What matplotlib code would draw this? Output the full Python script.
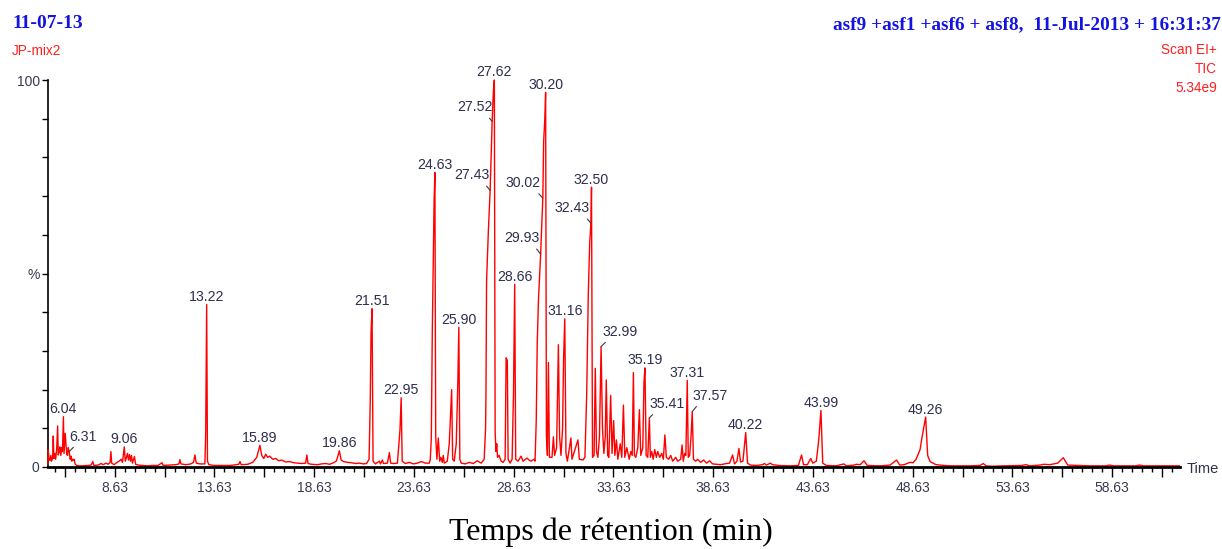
import numpy as np
import matplotlib
matplotlib.use("Agg")
import matplotlib.pyplot as plt
from matplotlib.ticker import FixedLocator, FixedFormatter

# ---------------- data ----------------
# chromatogram trace: (retention time in min, relative abundance in %)
trace_points = [
    (5.28, 0.8), (5.30, 4.4), (5.34, 2.0), (5.39, 1.7), (5.43, 3.0), (5.47, 1.5), (5.52, 2.5),
    (5.55, 8.0), (5.58, 2.2), (5.63, 3.5), (5.67, 2.0), (5.72, 4.5), (5.77, 10.6), (5.80, 3.1),
    (5.85, 4.0), (5.88, 5.2), (5.93, 3.0), (5.97, 5.0), (6.01, 4.0), (6.06, 13.0), (6.09, 3.5),
    (6.12, 6.0), (6.15, 8.7), (6.19, 5.6), (6.23, 3.2), (6.27, 3.0), (6.30, 5.0), (6.35, 4.0),
    (6.40, 2.0), (6.44, 2.8), (6.48, 1.5), (6.52, 2.0), (6.56, 1.8), (6.60, 2.0), (6.64, 0.8),
    (6.72, 0.4), (6.85, 0.3), (7.00, 0.3), (7.30, 0.4), (7.45, 0.5), (7.53, 1.4), (7.59, 0.4),
    (7.80, 0.5), (7.95, 0.9), (8.05, 0.6), (8.20, 1.0), (8.30, 0.7), (8.40, 1.2), (8.44, 4.0),
    (8.48, 1.0), (8.60, 0.6), (8.75, 1.2), (8.85, 1.5), (8.95, 2.0), (9.02, 1.2), (9.11, 5.2),
    (9.16, 1.5), (9.22, 2.5), (9.27, 3.5), (9.32, 1.8), (9.37, 3.2), (9.42, 1.5), (9.47, 3.0),
    (9.52, 1.0), (9.62, 2.7), (9.68, 0.7), (9.80, 0.5), (10.00, 0.4), (10.30, 0.3), (10.50, 0.4),
    (10.80, 0.4), (11.00, 1.1), (11.06, 0.4), (11.40, 0.5), (11.70, 0.6), (11.85, 0.8), (11.90, 1.9),
    (11.95, 0.8), (12.20, 0.6), (12.45, 0.8), (12.58, 1.2), (12.65, 3.1), (12.72, 1.0), (12.90, 0.8),
    (13.15, 0.8), (13.19, 8.2), (13.24, 42.0), (13.28, 1.5), (13.35, 0.6), (13.60, 0.4), (14.00, 0.4),
    (14.40, 0.4), (14.60, 0.5), (14.85, 0.7), (14.91, 1.4), (14.97, 0.6), (15.30, 0.7), (15.55, 1.2),
    (15.75, 2.5), (15.91, 5.6), (16.00, 3.0), (16.10, 2.2), (16.20, 3.3), (16.30, 2.5), (16.40, 2.8),
    (16.55, 2.0), (16.70, 2.2), (16.85, 1.6), (17.00, 1.8), (17.20, 1.3), (17.40, 1.4), (17.60, 1.1),
    (17.80, 1.0), (18.00, 0.9), (18.20, 1.0), (18.26, 3.1), (18.32, 0.9), (18.50, 0.7), (18.80, 0.6),
    (19.00, 0.8), (19.20, 0.9), (19.40, 0.7), (19.60, 1.1), (19.75, 1.6), (19.89, 4.2), (19.98, 1.8),
    (20.10, 1.4), (20.30, 1.2), (20.50, 1.1), (20.70, 0.9), (20.90, 1.0), (21.10, 0.8), (21.25, 0.9),
    (21.38, 2.0), (21.44, 17.0), (21.48, 35.0), (21.53, 40.9), (21.58, 1.5), (21.70, 0.8), (21.90, 1.5),
    (21.95, 0.8), (22.05, 1.8), (22.10, 0.9), (22.30, 1.0), (22.40, 3.7), (22.46, 1.0), (22.60, 0.9),
    (22.80, 1.0), (22.93, 9.6), (22.99, 17.9), (23.04, 1.5), (23.20, 0.9), (23.40, 1.2), (23.60, 0.8),
    (23.80, 1.0), (24.00, 1.4), (24.20, 1.0), (24.40, 1.0), (24.45, 2.0), (24.50, 7.5), (24.55, 35.0),
    (24.60, 53.6), (24.64, 69.0), (24.68, 76.1), (24.72, 8.0), (24.78, 2.0), (24.85, 7.5), (24.92, 1.5),
    (24.98, 2.5), (25.05, 1.2), (25.10, 3.0), (25.15, 1.0), (25.30, 1.5), (25.40, 6.0), (25.45, 12.0),
    (25.52, 20.0), (25.57, 2.0), (25.65, 1.5), (25.75, 6.0), (25.83, 22.0), (25.88, 36.1), (25.93, 2.0),
    (26.00, 1.0), (26.20, 0.8), (26.40, 1.2), (26.60, 0.9), (26.80, 1.6), (27.00, 1.0), (27.15, 2.0),
    (27.22, 10.0), (27.24, 19.0), (27.27, 48.0), (27.36, 61.0), (27.45, 71.5), (27.55, 89.3),
    (27.61, 97.0), (27.66, 100.0), (27.70, 9.0), (27.74, 4.0), (27.78, 6.0), (27.82, 2.5), (27.90, 3.0),
    (28.00, 1.5), (28.10, 1.2), (28.20, 2.0), (28.25, 28.2), (28.31, 27.5), (28.35, 2.0), (28.45, 1.0),
    (28.55, 2.0), (28.62, 19.0), (28.68, 47.2), (28.73, 2.0), (28.85, 1.5), (29.00, 2.8), (29.10, 1.5),
    (29.30, 2.3), (29.40, 1.8), (29.50, 1.5), (29.65, 2.0), (29.70, 1.5), (29.76, 12.0), (29.81, 32.0),
    (29.87, 43.0), (29.98, 55.0), (30.09, 69.5), (30.13, 84.0), (30.19, 90.0), (30.23, 96.8),
    (30.27, 8.0), (30.32, 3.0), (30.37, 27.0), (30.42, 2.5), (30.55, 2.5), (30.62, 7.8), (30.68, 3.0),
    (30.78, 5.0), (30.87, 31.6), (30.93, 7.8), (31.00, 3.0), (31.08, 10.0), (31.13, 28.0), (31.19, 38.3),
    (31.25, 3.5), (31.32, 1.5), (31.50, 7.5), (31.55, 2.0), (31.70, 4.5), (31.85, 7.0), (31.92, 2.0),
    (32.10, 1.8), (32.20, 2.5), (32.29, 19.0), (32.37, 45.0), (32.44, 58.0), (32.50, 63.0),
    (32.53, 72.3), (32.58, 2.5), (32.66, 3.0), (32.72, 25.5), (32.78, 4.0), (32.85, 2.5), (32.93, 8.0),
    (33.01, 31.1), (33.08, 10.0), (33.15, 3.5), (33.22, 8.0), (33.27, 22.5), (33.34, 3.0), (33.40, 2.5),
    (33.49, 18.5), (33.56, 3.5), (33.64, 12.0), (33.70, 3.0), (33.78, 7.0), (33.85, 2.0), (33.97, 6.0),
    (34.05, 2.5), (34.13, 16.0), (34.20, 2.5), (34.30, 5.0), (34.42, 2.0), (34.50, 4.0), (34.57, 3.0),
    (34.63, 24.4), (34.68, 3.0), (34.75, 2.5), (34.85, 5.0), (34.93, 14.8), (35.00, 3.0), (35.10, 5.0),
    (35.16, 22.0), (35.21, 25.6), (35.27, 3.0), (35.35, 2.5), (35.43, 12.7), (35.48, 2.5), (35.55, 4.0),
    (35.62, 2.0), (35.70, 4.5), (35.78, 2.5), (35.85, 4.0), (35.95, 2.5), (36.05, 3.5), (36.13, 2.0),
    (36.21, 8.3), (36.28, 2.5), (36.40, 2.0), (36.50, 3.0), (36.60, 1.5), (36.75, 2.5), (36.85, 1.5),
    (37.00, 2.0), (37.07, 5.7), (37.13, 1.5), (37.20, 3.5), (37.26, 3.0), (37.33, 22.4), (37.38, 2.5),
    (37.45, 3.0), (37.52, 8.0), (37.58, 14.3), (37.64, 2.0), (37.75, 1.5), (37.85, 2.0), (38.00, 1.2),
    (38.15, 1.8), (38.30, 1.0), (38.45, 1.6), (38.60, 0.8), (38.80, 0.7), (39.00, 0.6), (39.30, 0.9),
    (39.45, 1.0), (39.60, 3.1), (39.70, 0.8), (39.82, 1.5), (39.92, 4.8), (40.00, 1.3), (40.12, 1.5),
    (40.26, 8.9), (40.35, 1.0), (40.50, 0.5), (40.80, 0.4), (41.10, 0.6), (41.20, 0.9), (41.30, 0.5),
    (41.50, 1.0), (41.60, 0.6), (41.90, 0.4), (42.50, 0.3), (42.90, 0.4), (43.06, 3.1), (43.16, 0.6),
    (43.35, 0.6), (43.52, 2.2), (43.62, 1.0), (43.80, 1.5), (43.92, 7.0), (44.03, 14.6), (44.12, 1.0),
    (44.30, 0.4), (44.80, 0.3), (45.18, 0.8), (45.30, 0.3), (45.70, 0.5), (45.80, 0.7), (46.00, 0.6),
    (46.19, 1.6), (46.35, 0.4), (47.00, 0.3), (47.50, 0.5), (47.82, 1.8), (47.98, 0.5), (48.20, 0.6),
    (48.49, 1.2), (48.65, 1.1), (48.80, 2.0), (49.00, 4.5), (49.10, 7.8), (49.28, 12.9), (49.38, 3.0),
    (49.50, 1.4), (49.80, 0.6), (50.20, 0.4), (50.60, 0.3), (51.00, 0.3), (51.50, 0.3), (52.00, 0.4),
    (52.17, 0.9), (52.30, 0.3), (52.60, 0.2), (53.20, 0.3), (54.10, 0.4), (54.30, 0.6), (54.50, 0.3),
    (55.00, 0.5), (55.20, 0.7), (55.50, 0.6), (55.90, 1.0), (56.18, 2.4), (56.40, 0.5), (57.00, 0.4),
    (57.50, 0.3), (58.30, 0.3), (58.50, 0.5), (58.70, 0.3), (59.80, 0.3), (60.00, 0.5), (60.20, 0.3),
    (61.00, 0.3), (62.00, 0.3),
]

# peak labels written straight above the apex: (text, apex time)
apex_labels = [
    ("6.04", 6.06), ("9.06", 9.11), ("13.22", 13.24), ("15.89", 15.91), ("19.86", 19.89),
    ("21.51", 21.53), ("22.95", 22.99), ("24.63", 24.68), ("25.90", 25.88), ("27.62", 27.66),
    ("28.66", 28.68), ("30.20", 30.23), ("31.16", 31.19), ("32.50", 32.53), ("35.19", 35.21),
    ("37.31", 37.33), ("40.22", 40.26), ("43.99", 44.03), ("49.26", 49.28),
]
# peak labels attached by a short leader line: (text, point time)
leader_labels = [
    ("6.31", 6.35), ("27.43", 27.45), ("27.52", 27.55), ("29.93", 29.98), ("30.02", 30.09),
    ("32.43", 32.50), ("32.99", 33.01), ("35.41", 35.43), ("37.57", 37.58),
]

x_tick_labels = ["8.63", "13.63", "18.63", "23.63", "28.63", "33.63", "38.63",
                 "43.63", "48.63", "53.63", "58.63"]
y_tick_values = [0, 50, 100]
y_tick_labels = ["0", "%", "100"]

# ---------------- layout / style ----------------
W, H = 1222, 549
PX_PER_MIN = 19.95
REF_PX = 114.7          # pixel column of 8.63 min
def t_at(px):
    return 8.63 + (px - REF_PX) / PX_PER_MIN

AX_L, AX_R, AX_B, AX_T = 48, 1180, 467, 80

RED = "#ff0000"
BLUE = "#1414e0"
LABEL_C = "#2e2e4e"
TICK_C = "#3a3a52"
SANS = ["Liberation Sans", "DejaVu Sans"]
SERIF = ["Liberation Serif", "DejaVu Serif"]

leader_style = {  # text offset (px) from the point, alignment, leader start on text box
    "6.31": (0, 11, "left", 0.34),
    "27.43": (-1, 11, "right", 0.8),
    "27.52": (0, 10, "right", 0.8),
    "29.93": (-1, 12, "right", 0.8),
    "30.02": (-2, 11, "right", 0.8),
    "32.43": (-1, 11, "right", 0.8),
    "32.99": (1, 11, "left", 0.24),
    "35.41": (0, 10, "left", 0.24),
    "37.57": (0, 12, "left", 0.24),
}

fig = plt.figure(figsize=(W / 100, H / 100), dpi=100)
ax = fig.add_axes([AX_L / W, 1 - AX_B / H, (AX_R - AX_L) / W, (AX_B - AX_T) / H])

times = np.array([p[0] for p in trace_points])
vals = np.array([p[1] for p in trace_points])

ax.plot(times, vals, color=RED, lw=1.0, clip_on=False, zorder=3)
ax.set_xlim(t_at(AX_L), t_at(AX_R))
ax.set_ylim(0, 100)

for s in ("top", "right"):
    ax.spines[s].set_visible(False)
ax.spines["bottom"].set_linewidth(2.0)
ax.spines["left"].set_linewidth(1.2)
ax.spines["bottom"].set_zorder(4)

# x ticks: majors every 2.5 min, labels every 5 min, minors every 0.5 min
x_lab_vals = [float(s) for s in x_tick_labels]
majors = [6.13 + 2.5 * k for k in range(23)]
maj_labels = []
for m in majors:
    hit = [s for s, v in zip(x_tick_labels, x_lab_vals) if abs(v - m) < 1e-6]
    maj_labels.append(hit[0] if hit else "")
ax.xaxis.set_major_locator(FixedLocator(majors))
ax.xaxis.set_major_formatter(FixedFormatter(maj_labels))
ax.xaxis.set_minor_locator(FixedLocator([5.63 + 0.5 * k for k in range(113)]))
ax.tick_params(axis="x", which="major", direction="out", length=7, width=1.0,
               pad=3, labelsize=10, labelcolor=TICK_C)
ax.tick_params(axis="x", which="minor", direction="out", length=3.8, width=1.0)

ax.yaxis.set_major_locator(FixedLocator(list(range(0, 101, 10))))
ax.yaxis.set_major_formatter(FixedFormatter(
    [y_tick_labels[y_tick_values.index(v)] if v in y_tick_values else "" for v in range(0, 101, 10)]))
ax.tick_params(axis="y", which="major", direction="out", length=4.5, width=1.0,
               pad=1.5, labelsize=10, labelcolor=TICK_C)
for lab in ax.get_xticklabels() + ax.get_yticklabels():
    lab.set_family(SANS)

# peak labels
for text, t in apex_labels:
    y = float(np.interp(t, times, vals))
    ax.annotate(text, xy=(t, y), xytext=(0, 3.5), textcoords="offset pixels",
                ha="center", va="baseline", fontsize=10.2, color=LABEL_C,
                family=SANS, annotation_clip=False, zorder=5)

for text, t in leader_labels:
    dx, dy, ha, rx = leader_style[text]
    y = float(np.interp(t, times, vals))
    ax.annotate(text, xy=(t, y), xytext=(dx, dy), textcoords="offset pixels",
                ha=ha, va="baseline", fontsize=10.2, color=LABEL_C, family=SANS,
                annotation_clip=False, zorder=5,
                arrowprops=dict(arrowstyle="-", color="#3a3a3a", lw=0.8,
                                shrinkA=1, shrinkB=0, relpos=(rx, 0.1)))

# header and captions
fig.text(12 / W, 1 - 24 / H, "11-07-13", ha="left", va="center", fontsize=14,
         fontweight="bold", color=BLUE, family=SERIF)
fig.text(12 / W, 1 - 51 / H, "JP-mix2", ha="left", va="center", fontsize=9.8,
         color="#ff2020", family=SANS)
fig.text(1221 / W, 1 - 25 / H, "asf9 +asf1 +asf6 + asf8,  11-Jul-2013 + 16:31:37",
         ha="right", va="center", fontsize=13.9, fontweight="bold", color=BLUE, family=SERIF)
fig.text(1217 / W, 1 - 50 / H, "Scan EI+", ha="right", va="center", fontsize=9.8,
         color="#ff2020", family=SANS)
fig.text(1217 / W, 1 - 69 / H, "TIC", ha="right", va="center", fontsize=9.8,
         color="#ff2020", family=SANS)
fig.text(1217 / W, 1 - 88 / H, "5.34e9", ha="right", va="center", fontsize=9.8,
         color="#ff2020", family=SANS)
fig.text(1187 / W, 1 - 469 / H, "Time", ha="left", va="center", fontsize=10.5,
         color=LABEL_C, family=SANS)
fig.text(611 / W, 1 - 532 / H, "Temps de rétention (min)", ha="center", va="center",
         fontsize=23, color="black", family=SERIF)

fig.savefig("out.png", dpi=100)
